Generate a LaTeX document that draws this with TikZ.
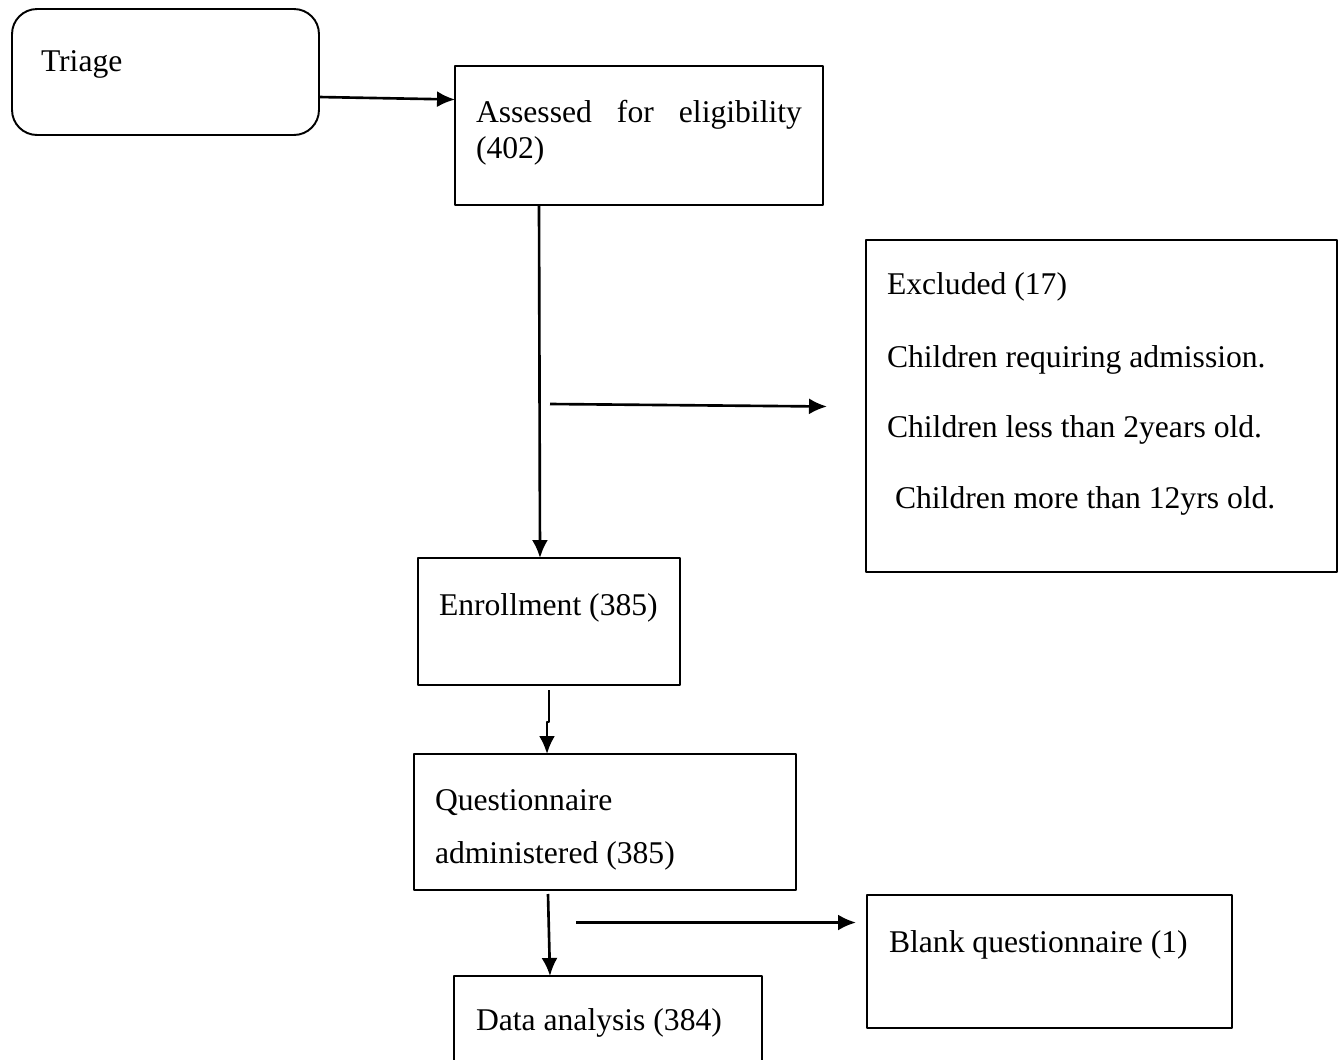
\documentclass[tikz,border=0pt]{standalone}
\usepackage{fontspec}
\setmainfont{Liberation Serif}
\usetikzlibrary{arrows.meta,calc}
\begin{document}
\begin{tikzpicture}[x=.02cm,y=-.02cm,line join=round,
    every node/.style={inner sep=0pt,outer sep=0pt},
    box/.style={draw,line width=1.1pt},
    lbl/.style={anchor=base west,font=\fontsize{18}{21}\selectfont},
    conn/.style={line width=1.5pt,-{Latex[length=.36cm,width=.32cm]}}]
  \path[use as bounding box,fill=white] (0,0) rectangle (1342,1059);
  \clip (0,0) rectangle (1342,1059);

  \node[box,rounded corners=.5cm,minimum width=6.14cm,minimum height=2.52cm] (triage) at (165.5,72) {};
  \node[box,minimum width=7.36cm,minimum height=2.78cm] (assess) at (639,135.5) {};
  \node[box,minimum width=9.42cm,minimum height=6.64cm] (excl) at (1101.5,406) {};
  \node[box,minimum width=5.24cm,minimum height=2.54cm] (enrol) at (549,621.5) {};
  \node[box,minimum width=7.64cm,minimum height=2.72cm] (quest) at (605,822) {};
  \node[box,minimum width=7.30cm,minimum height=2.66cm] (blank) at (1049.5,961.5) {};
  \node[box,minimum width=6.16cm,minimum height=2.48cm] (data) at (608,1038) {};

  \node[lbl] (triage-t) at (41,71) {Triage};
  \node[lbl] (assess-t1) at (476,122) {\makebox[6.52cm][s]{Assessed for eligibility}};
  \node[lbl] (assess-t2) at (476,158) {(402)};
  \node[lbl] (excl-t1) at (887,294) {Excluded (17)};
  \node[lbl] (excl-t2) at (887,367) {Children requiring admission.};
  \node[lbl] (excl-t3) at (887,437) {Children less than 2years old.};
  \node[lbl] (excl-t4) at (895,508) {Children more than 12yrs old.};
  \node[lbl] (enrol-t) at (439,615) {Enrollment (385)};
  \node[lbl] (quest-t1) at (435,810) {Questionnaire};
  \node[lbl] (quest-t2) at (435,863) {administered (385)};
  \node[lbl] (blank-t) at (889,952) {Blank questionnaire (1)};
  \node[lbl] (data-t) at (476,1030) {Data analysis (384)};

  \coordinate (excl-from) at (550,404);
  \coordinate (excl-to) at (827,406.5);
  \coordinate (blank-from) at (576,922.5);
  \coordinate (blank-to) at (856,922.5);

  \draw[conn] ($(triage.east)+(0,25)$) -- ($(assess.west)+(0,-36)$);
  \draw[conn] ($(assess.south)+(-100,0)$) -- ($(enrol.north)+(-9,0)$);
  \draw[conn] (excl-from) -- (excl-to);
  \draw[conn] ($(enrol.south)+(0,5)$) -- ++(0,32) -- ++(-2,0) -- ($(quest.north)+(-58,0)$);
  \draw[conn] ($(quest.south)+(-57,4)$) -- ($(data.north)+(-58,0)$);
  \draw[conn] (blank-from) -- (blank-to);
\end{tikzpicture}
\end{document}
